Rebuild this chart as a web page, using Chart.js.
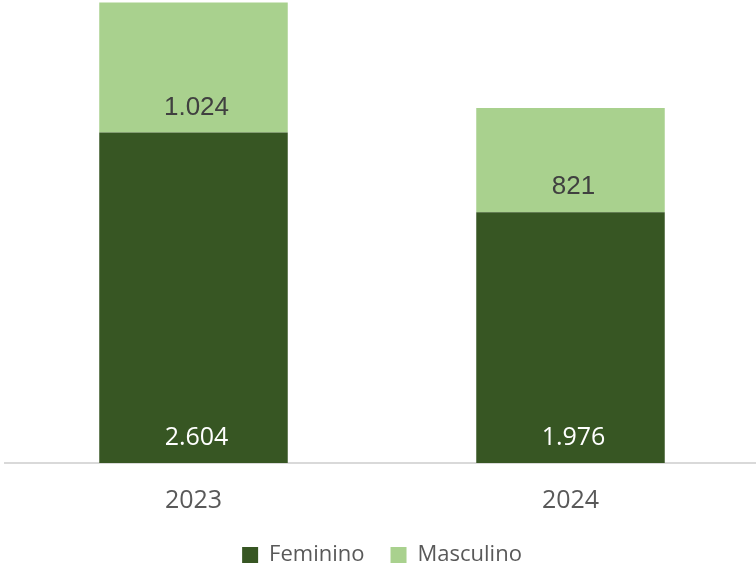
<!DOCTYPE html>
<html>
<head>
<meta charset="utf-8">
<script src="https://cdn.jsdelivr.net/npm/chart.js@4/dist/chart.umd.min.js"></script>
<style>
  html, body { margin: 0; padding: 0; background: #fff; overflow: hidden; }
  #wrap { width: 760px; height: 568px; }
</style>
</head>
<body>
<div id="wrap"><canvas id="myBarChart"></canvas></div>
<script>
var anos = ['2023', '2024'];
var feminino = [2604, 1976];
var masculino = [1024, 821];

function formatar(v) {
    return String(v).replace(/\B(?=(\d{3})+(?!\d))/g, '.');
}

// rótulos de dados na base de cada segmento
var rotulos = {
    id: 'rotulos',
    afterDatasetsDraw: function(chart) {
        var ctx = chart.ctx;
        chart.data.datasets.forEach(function(ds, i) {
            var meta = chart.getDatasetMeta(i);
            ctx.save();
            ctx.fillStyle = ds.labelColor;
            ctx.font = ds.labelFont;
            ctx.textAlign = 'center';
            ctx.textBaseline = 'middle';
            meta.data.forEach(function(bar, j) {
                ctx.fillText(formatar(ds.data[j]), bar.x + 3, bar.base - 25);
            });
            ctx.restore();
        });
    }
};

// legenda mais baixa (altura fixa)
var alturaLegenda = {
    id: 'alturaLegenda',
    beforeInit: function(chart) {
        var fitOriginal = chart.legend.fit;
        chart.legend.fit = function() {
            fitOriginal.bind(chart.legend)();
            this.height = 50;
        };
    }
};

var myBarChart = new Chart(document.getElementById('myBarChart').getContext('2d'), {
    type: 'bar',
    data: {
        labels: anos,
        datasets: [{
            label: 'Feminino',
            data: feminino,
            backgroundColor: '#375623',
            labelColor: '#ffffff',
            labelFont: '25px "Open Sans"',
            barPercentage: 0.5,
            categoryPercentage: 1.0
        }, {
            label: 'Masculino',
            data: masculino,
            backgroundColor: '#a9d18e',
            labelColor: '#404040',
            labelFont: '26px "Liberation Sans"',
            barPercentage: 0.5,
            categoryPercentage: 1.0
        }]
    },
    options: {
        responsive: true,
        maintainAspectRatio: false,
        animation: false,
        layout: { padding: { left: 5, right: 1, top: 0, bottom: 0 } },
        scales: {
            x: {
                stacked: true,
                grid: { display: false, drawTicks: false },
                border: { display: true, color: '#d9d9d9', width: 2 },
                ticks: {
                    color: '#595959',
                    padding: 23,
                    font: { family: 'Open Sans', size: 25 }
                },
                afterFit: function(scale) { scale.height = 55; }
            },
            y: {
                stacked: true,
                display: false,
                min: 0,
                max: 3648
            }
        },
        plugins: {
            legend: {
                position: 'bottom',
                labels: {
                    color: '#595959',
                    boxWidth: 16,
                    boxHeight: 16,
                    padding: 26,
                    font: { family: 'Open Sans', size: 22 }
                }
            },
            tooltip: { enabled: false }
        }
    },
    plugins: [rotulos, alturaLegenda]
});
</script>
</body>
</html>
